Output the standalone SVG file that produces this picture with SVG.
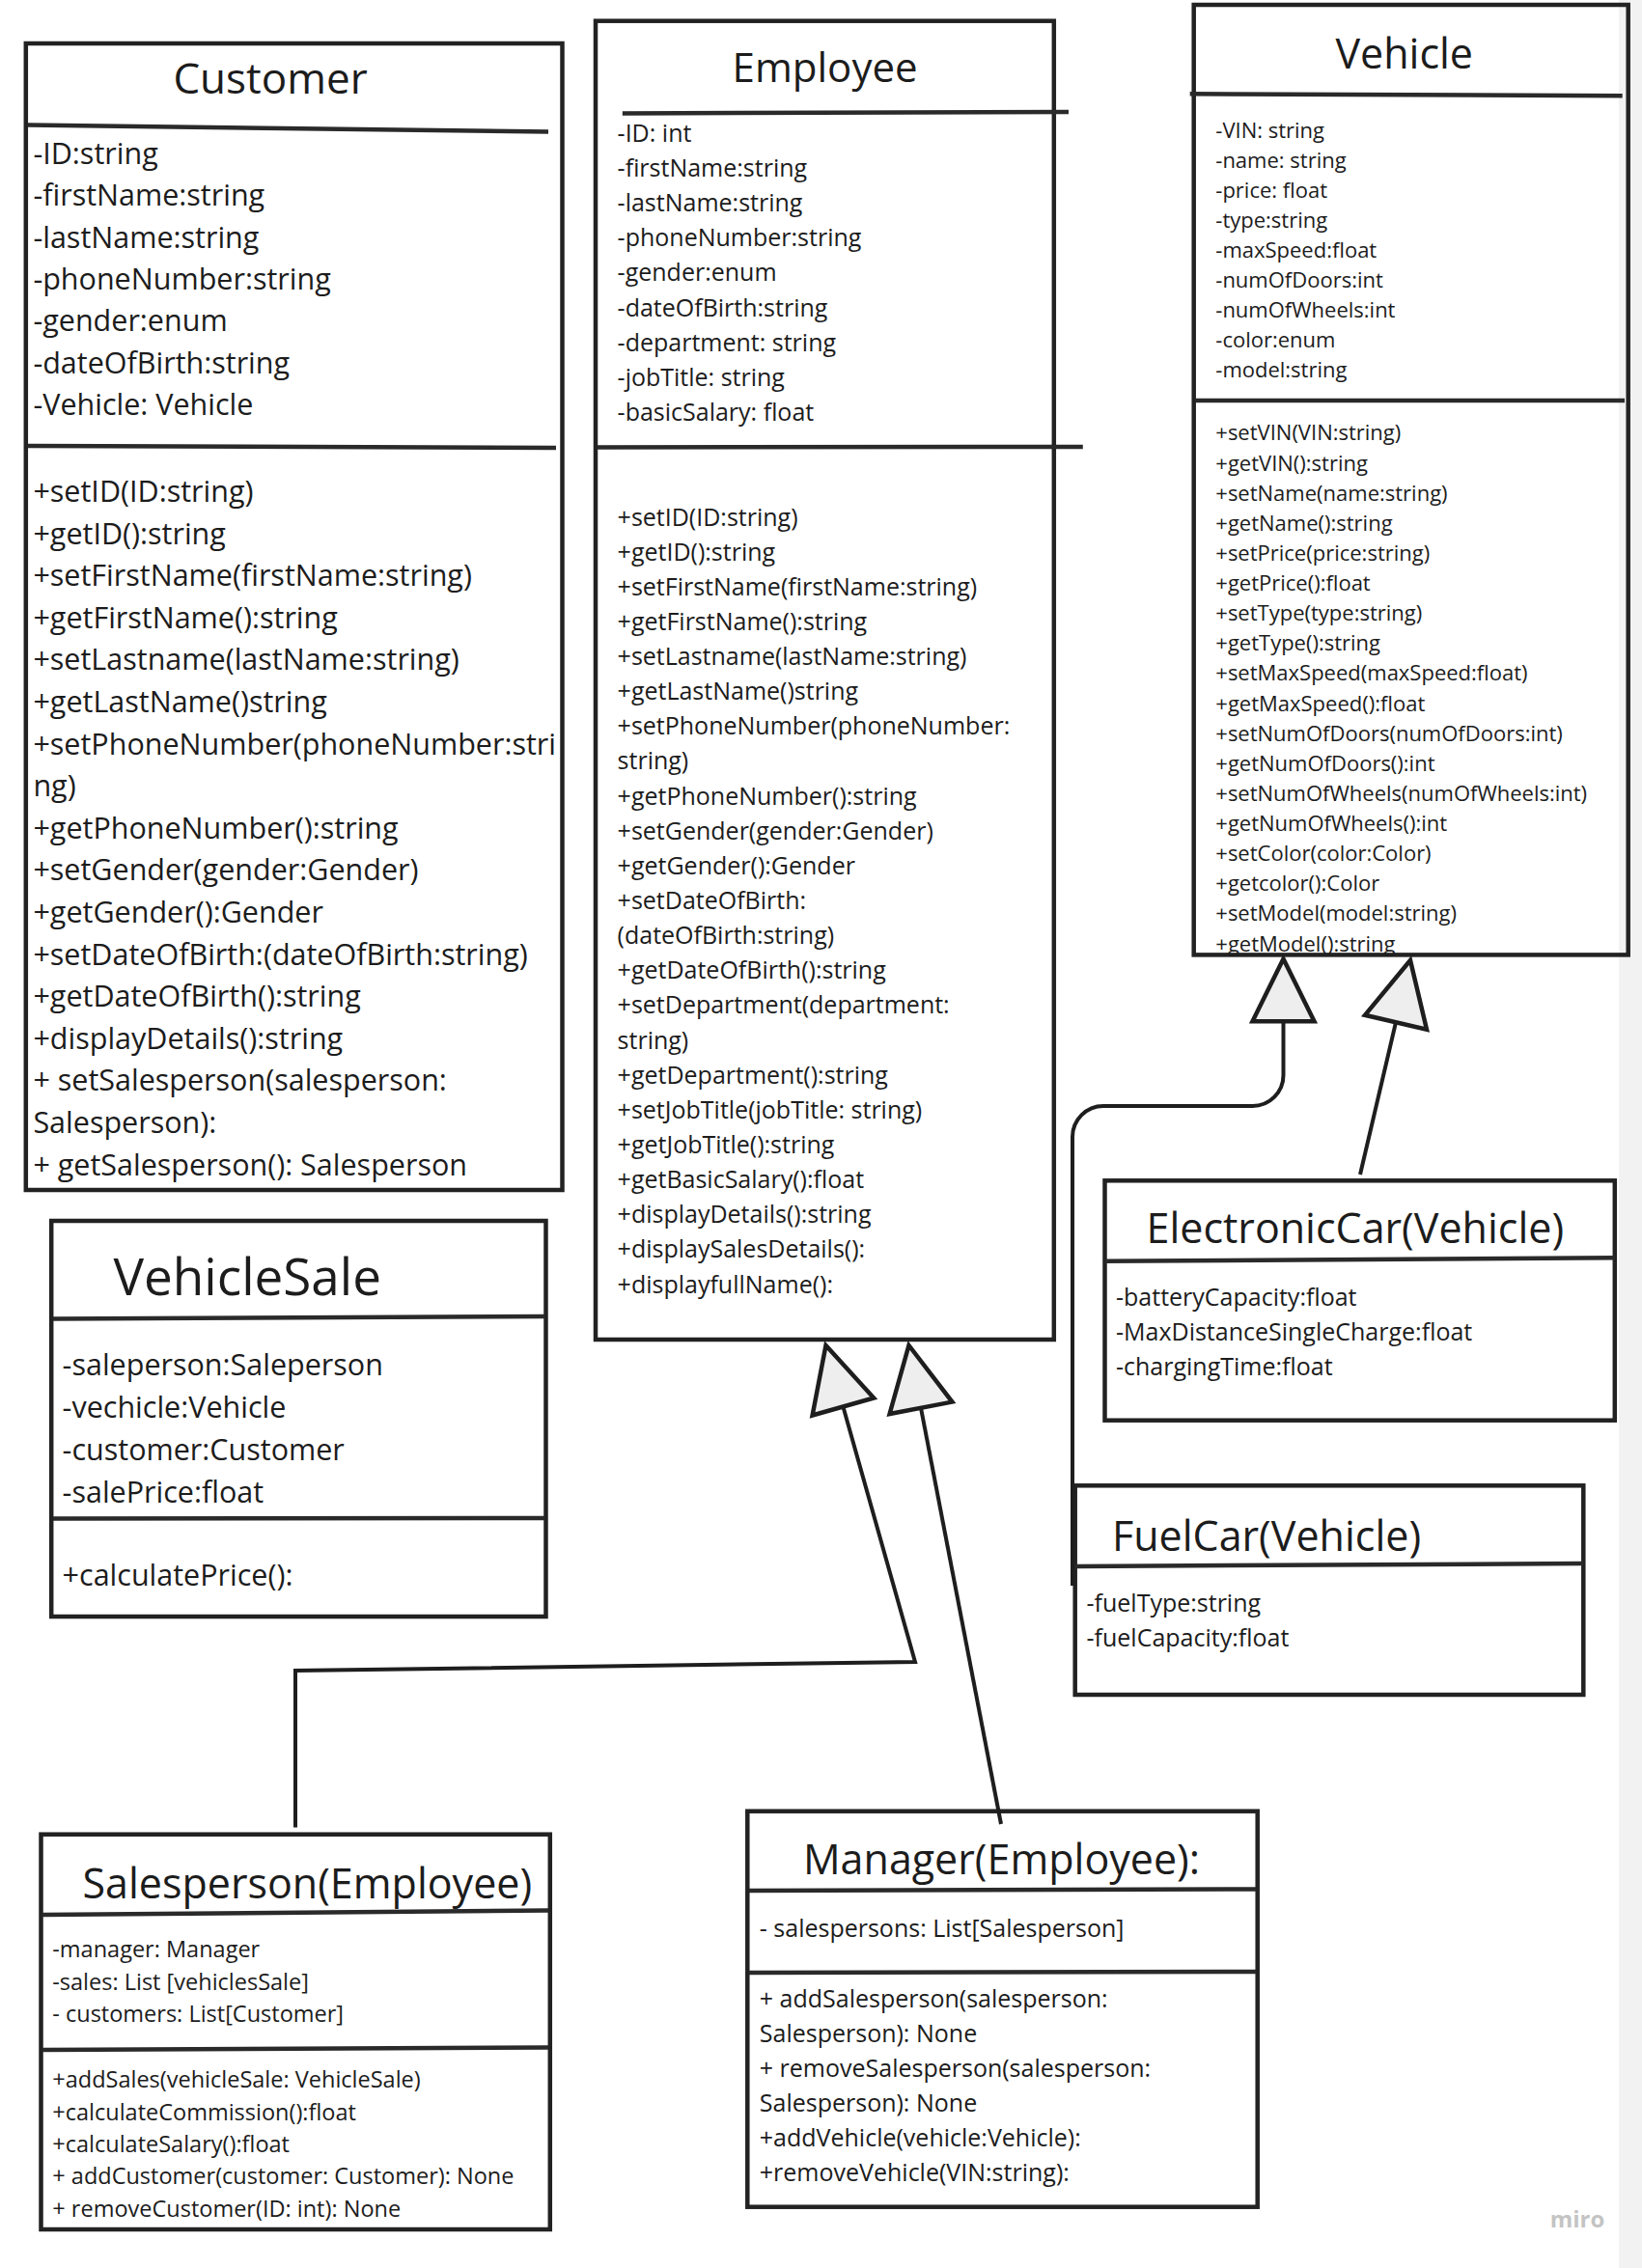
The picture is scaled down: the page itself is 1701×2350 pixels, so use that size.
<svg xmlns="http://www.w3.org/2000/svg" width="1701" height="2350" viewBox="0 0 1701 2350">
<style>
text{font-family:"Open Sans","Noto Sans","DejaVu Sans",sans-serif;fill:#1c1c1c}
.box{fill:none;stroke:#222;stroke-width:4.5}
.div{stroke:#2a2a2a;stroke-width:4.5;fill:none}
.t{font-size:43px}
.tm{text-anchor:middle}
.f305{font-size:30.5px}
.f25{font-size:25px}
.f235{font-size:23.5px}
.f22{font-size:22px}
.con{fill:none;stroke:#1e1e1e;stroke-width:4;stroke-linejoin:miter}
.tri{fill:#eeeeee;stroke:#1e1e1e;stroke-width:4.5;stroke-linejoin:miter}
</style>
<rect x="0" y="0" width="1701" height="2350" fill="#ffffff"/>
<rect x="1677" y="0" width="24" height="2350" fill="#f2f2f2"/>

<g id="customer">
<rect class="box" x="26.8" y="45" width="555.7" height="1188" fill="#fff"/>
<text class="t tm" x="280" y="97" style="font-size:44px">Customer</text>
<line class="div" x1="28.7" y1="129.5" x2="568" y2="136.5"/>
<text class="f305" x="34.4" y="170"><tspan x="34.4">-ID:string</tspan><tspan x="34.4" dy="43.3">-firstName:string</tspan><tspan x="34.4" dy="43.3">-lastName:string</tspan><tspan x="34.4" dy="43.3">-phoneNumber:string</tspan><tspan x="34.4" dy="43.3">-gender:enum</tspan><tspan x="34.4" dy="43.3">-dateOfBirth:string</tspan><tspan x="34.4" dy="43.3">-Vehicle: Vehicle</tspan></text>
<line class="div" x1="28.7" y1="462" x2="576" y2="464"/>
<text class="f305" x="34.4" y="520"><tspan x="34.4">+setID(ID:string)</tspan><tspan x="34.4" dy="43.6">+getID():string</tspan><tspan x="34.4" dy="43.6">+setFirstName(firstName:string)</tspan><tspan x="34.4" dy="43.6">+getFirstName():string</tspan><tspan x="34.4" dy="43.6">+setLastname(lastName:string)</tspan><tspan x="34.4" dy="43.6">+getLastName()string</tspan><tspan x="34.4" dy="43.6">+setPhoneNumber(phoneNumber:stri</tspan><tspan x="34.4" dy="43.6">ng)</tspan><tspan x="34.4" dy="43.6">+getPhoneNumber():string</tspan><tspan x="34.4" dy="43.6">+setGender(gender:Gender)</tspan><tspan x="34.4" dy="43.6">+getGender():Gender</tspan><tspan x="34.4" dy="43.6">+setDateOfBirth:(dateOfBirth:string)</tspan><tspan x="34.4" dy="43.6">+getDateOfBirth():string</tspan><tspan x="34.4" dy="43.6">+displayDetails():string</tspan><tspan x="34.4" dy="43.6">+ setSalesperson(salesperson:</tspan><tspan x="34.4" dy="43.6">Salesperson):</tspan><tspan x="34.4" dy="43.6">+ getSalesperson(): Salesperson</tspan></text>
</g>

<g id="employee">
<rect class="box" x="617" y="21.7" width="474.8" height="1366.3" fill="#fff"/>
<text class="t tm" x="854.6" y="85" style="font-size:42px">Employee</text>
<line class="div" x1="644.8" y1="117.5" x2="1107" y2="116"/>
<text class="f25" x="639.6" y="147"><tspan x="639.6">-ID: int</tspan><tspan x="639.6" dy="36.1">-firstName:string</tspan><tspan x="639.6" dy="36.1">-lastName:string</tspan><tspan x="639.6" dy="36.1">-phoneNumber:string</tspan><tspan x="639.6" dy="36.1">-gender:enum</tspan><tspan x="639.6" dy="36.1">-dateOfBirth:string</tspan><tspan x="639.6" dy="36.1">-department: string</tspan><tspan x="639.6" dy="36.1">-jobTitle: string</tspan><tspan x="639.6" dy="36.1">-basicSalary: float</tspan></text>
<line class="div" x1="619" y1="463.5" x2="1121.8" y2="463"/>
<text class="f25" x="639.6" y="544.5"><tspan x="639.6">+setID(ID:string)</tspan><tspan x="639.6" dy="36.14">+getID():string</tspan><tspan x="639.6" dy="36.14">+setFirstName(firstName:string)</tspan><tspan x="639.6" dy="36.14">+getFirstName():string</tspan><tspan x="639.6" dy="36.14">+setLastname(lastName:string)</tspan><tspan x="639.6" dy="36.14">+getLastName()string</tspan><tspan x="639.6" dy="36.14">+setPhoneNumber(phoneNumber:</tspan><tspan x="639.6" dy="36.14">string)</tspan><tspan x="639.6" dy="36.14">+getPhoneNumber():string</tspan><tspan x="639.6" dy="36.14">+setGender(gender:Gender)</tspan><tspan x="639.6" dy="36.14">+getGender():Gender</tspan><tspan x="639.6" dy="36.14">+setDateOfBirth:</tspan><tspan x="639.6" dy="36.14">(dateOfBirth:string)</tspan><tspan x="639.6" dy="36.14">+getDateOfBirth():string</tspan><tspan x="639.6" dy="36.14">+setDepartment(department:</tspan><tspan x="639.6" dy="36.14">string)</tspan><tspan x="639.6" dy="36.14">+getDepartment():string</tspan><tspan x="639.6" dy="36.14">+setJobTitle(jobTitle: string)</tspan><tspan x="639.6" dy="36.14">+getJobTitle():string</tspan><tspan x="639.6" dy="36.14">+getBasicSalary():float</tspan><tspan x="639.6" dy="36.14">+displayDetails():string</tspan><tspan x="639.6" dy="36.14">+displaySalesDetails():</tspan><tspan x="639.6" dy="36.14">+displayfullName():</tspan></text>
</g>

<g id="vehicle">
<rect class="box" x="1236.7" y="5" width="450" height="984.4"/>
<text class="t tm" x="1454.7" y="70.7">Vehicle</text>
<line class="div" x1="1232.7" y1="97.3" x2="1680.7" y2="99.3"/>
<text class="f22" x="1259.3" y="143.3"><tspan x="1259.3">-VIN: string</tspan><tspan x="1259.3" dy="30.9">-name: string</tspan><tspan x="1259.3" dy="30.9">-price: float</tspan><tspan x="1259.3" dy="30.9">-type:string</tspan><tspan x="1259.3" dy="30.9">-maxSpeed:float</tspan><tspan x="1259.3" dy="30.9">-numOfDoors:int</tspan><tspan x="1259.3" dy="30.9">-numOfWheels:int</tspan><tspan x="1259.3" dy="30.9">-color:enum</tspan><tspan x="1259.3" dy="30.9">-model:string</tspan></text>
<line class="div" x1="1238" y1="415" x2="1683" y2="415"/>
<text class="f22" x="1259.3" y="456.4"><tspan x="1259.3">+setVIN(VIN:string)</tspan><tspan x="1259.3" dy="31.13">+getVIN():string</tspan><tspan x="1259.3" dy="31.13">+setName(name:string)</tspan><tspan x="1259.3" dy="31.13">+getName():string</tspan><tspan x="1259.3" dy="31.13">+setPrice(price:string)</tspan><tspan x="1259.3" dy="31.13">+getPrice():float</tspan><tspan x="1259.3" dy="31.13">+setType(type:string)</tspan><tspan x="1259.3" dy="31.13">+getType():string</tspan><tspan x="1259.3" dy="31.13">+setMaxSpeed(maxSpeed:float)</tspan><tspan x="1259.3" dy="31.13">+getMaxSpeed():float</tspan><tspan x="1259.3" dy="31.13">+setNumOfDoors(numOfDoors:int)</tspan><tspan x="1259.3" dy="31.13">+getNumOfDoors():int</tspan><tspan x="1259.3" dy="31.13">+setNumOfWheels(numOfWheels:int)</tspan><tspan x="1259.3" dy="31.13">+getNumOfWheels():int</tspan><tspan x="1259.3" dy="31.13">+setColor(color:Color)</tspan><tspan x="1259.3" dy="31.13">+getcolor():Color</tspan><tspan x="1259.3" dy="31.13">+setModel(model:string)</tspan><tspan x="1259.3" dy="31.13">+getModel():string</tspan></text>
</g>

<g id="vehiclesale">
<rect class="box" x="53.2" y="1265" width="512.3" height="410" fill="#fff"/>
<text x="117.5" y="1341.7" style="font-size:53px">VehicleSale</text>
<line class="div" x1="55" y1="1366.5" x2="564" y2="1364"/>
<text class="f305" x="64.6" y="1425"><tspan x="64.6">-saleperson:Saleperson</tspan><tspan x="64.6" dy="43.9">-vechicle:Vehicle</tspan><tspan x="64.6" dy="43.9">-customer:Customer</tspan><tspan x="64.6" dy="43.9">-salePrice:float</tspan></text>
<line class="div" x1="55" y1="1573.5" x2="564" y2="1573"/>
<text class="f305" x="64.6" y="1643.3">+calculatePrice():</text>
</g>

<g id="electroniccar">
<rect class="box" x="1144.5" y="1223.3" width="528.3" height="248.4" fill="#fff"/>
<text class="t tm" x="1403.8" y="1288.3">ElectronicCar(Vehicle)</text>
<line class="div" x1="1144.5" y1="1306.7" x2="1672.8" y2="1303.3"/>
<text class="f25" x="1156" y="1353.3"><tspan x="1156">-batteryCapacity:float</tspan><tspan x="1156" dy="36">-MaxDistanceSingleCharge:float</tspan><tspan x="1156" dy="36">-chargingTime:float</tspan></text>
</g>

<g id="fuelcar">
<rect class="box" x="1113.7" y="1539.3" width="526.6" height="216.7" fill="#fff"/>
<text class="t" x="1152" y="1606.7">FuelCar(Vehicle)</text>
<line class="div" x1="1113.7" y1="1623" x2="1640.3" y2="1620"/>
<text class="f25" x="1125.5" y="1670"><tspan x="1125.5">-fuelType:string</tspan><tspan x="1125.5" dy="36">-fuelCapacity:float</tspan></text>
</g>

<g id="salesperson">
<rect class="box" x="42.5" y="1900.7" width="527.3" height="409.3" fill="#fff"/>
<text class="t tm" x="318.3" y="1967.3">Salesperson(Employee)</text>
<line class="div" x1="44" y1="1984" x2="568" y2="1979.5"/>
<text class="f235" x="54.3" y="2028.3"><tspan x="54.3">-manager: Manager</tspan><tspan x="54.3" dy="33.3">-sales: List [vehiclesSale]</tspan><tspan x="54.3" dy="33.3">- customers: List[Customer]</tspan></text>
<line class="div" x1="44" y1="2124" x2="568" y2="2121.5"/>
<text class="f235" x="54.3" y="2163.3"><tspan x="54.3">+addSales(vehicleSale: VehicleSale)</tspan><tspan x="54.3" dy="33.35">+calculateCommission():float</tspan><tspan x="54.3" dy="33.35">+calculateSalary():float</tspan><tspan x="54.3" dy="33.35">+ addCustomer(customer: Customer): None</tspan><tspan x="54.3" dy="33.35">+ removeCustomer(ID: int): None</tspan></text>
</g>

<g id="manager">
<rect class="box" x="774.3" y="1876.7" width="528.4" height="410" fill="#fff"/>
<text class="t tm" x="1037.5" y="1941.7">Manager(Employee):</text>
<line class="div" x1="776" y1="1959" x2="1301" y2="1957.5"/>
<text class="f25" x="786.8" y="2006.7">- salespersons: List[Salesperson]</text>
<line class="div" x1="776" y1="2044" x2="1301" y2="2043"/>
<text class="f25" x="786.8" y="2080"><tspan x="786.8">+ addSalesperson(salesperson:</tspan><tspan x="786.8" dy="36">Salesperson): None</tspan><tspan x="786.8" dy="36">+ removeSalesperson(salesperson:</tspan><tspan x="786.8" dy="36">Salesperson): None</tspan><tspan x="786.8" dy="36">+addVehicle(vehicle:Vehicle):</tspan><tspan x="786.8" dy="36">+removeVehicle(VIN:string):</tspan></text>
</g>

<g id="connectors">
<path class="con" d="M1111,1643 V1178 A32,32 0 0 1 1143,1146 H1297.5 A32,32 0 0 0 1329.5,1114 V1058"/>
<polygon class="tri" points="1329.5,993.5 1297.5,1058.3 1361.5,1058.3"/>
<line class="con" x1="1409" y1="1217" x2="1446" y2="1059.3"/>
<polygon class="tri" points="1461,995 1478,1066.8 1414,1051.8"/>
<polyline class="con" points="306,1893.5 306,1731 948,1722 873.4,1457.5"/>
<polygon class="tri" points="855.5,1394 905.2,1448.5 841.6,1466.5"/>
<line class="con" x1="1037" y1="1890" x2="954" y2="1458.8"/>
<polygon class="tri" points="941.5,1394 986.4,1452.6 921.6,1465"/>
</g>

<text x="1634" y="2308" style="font-size:24px;fill:#c4c4c4;text-anchor:middle;font-weight:bold">miro</text>
</svg>
